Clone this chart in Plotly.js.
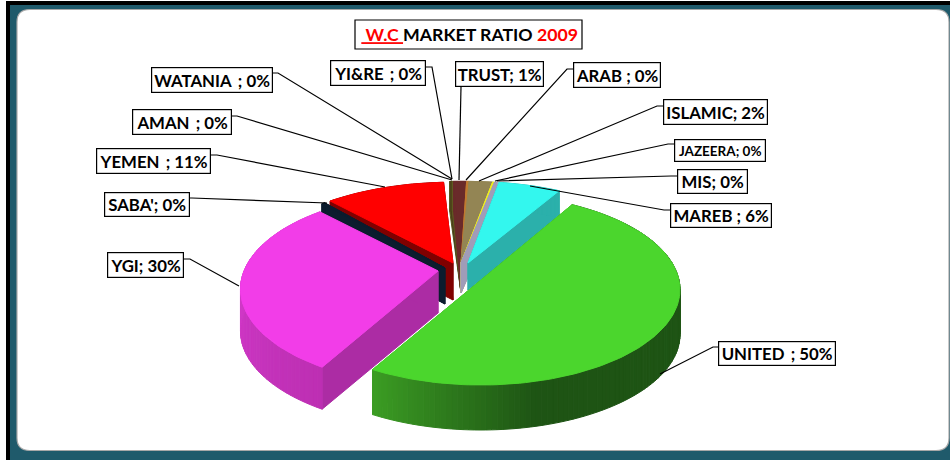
<!DOCTYPE html>
<html><head><meta charset="utf-8">
<script src="https://cdn.plot.ly/plotly-3.0.1.min.js"></script>
<style>html,body{margin:0;padding:0;background:#fff}</style></head>
<body><div id="chart" style="width:950px;height:460px"></div>
<script>
// ---- data (percent share, clockwise order) ----
var categories = ["UNITED\u2009 ","YGI","SABA'","YEMEN\u2009 ","WATANIA\u2009 ","AMAN\u2009 ","YI&RE\u2009 ","TRUST","ARAB ","ISLAMIC","JAZEERA","MIS","MAREB "];
var shares     = [50, 29.5, 0.3, 11, 0.1, 0.1, 0.1, 1.0, 0.2, 1.8, 0.15, 0.2, 5.55];
var shownPct   = ["50%","30%","0%","11%","0%","0%","0%","1%","0%","2%","0%","0%","6%"];
var titleText  = " <span style=\"color:#ff0000\"><u>&nbsp;W.C&nbsp;</u></span>MARKET RATIO <span style=\"color:#ff0000\">2009</span>";

// ---- styling and layout ----
var startAngle = 60;
var tops  = ["#4bd62d","#f23de8","#0b1c2e","#ff0000","#55551f","#4a3f1a","#5f5a22","#6a2a2a","#c07a30","#938554","#eeee20","#a09cb8","#33f7ee"];
var wallA = ["#3c9e24","#cf38c6","#0b1c2e","#800000","#55551f","#4a3f1a","#5f5a22","#6a2a2a","#c07a30","#938554","#eeee20","#a09cb8","#2bb0ab"];
var wallB = ["#1e5414","#bd2fb3","#0b1c2e","#800000","#55551f","#4a3f1a","#5f5a22","#6a2a2a","#c07a30","#938554","#eeee20","#a09cb8","#2bb0ab"];
var edgeA = ["#3c9e24","#ac2ca4","#0b1c2e","#800000","#55551f","#4a3f1a","#5f5a22","#6a2a2a","#c07a30","#938554","#eeee20","#a09cb8","#2bb0ab"];
// rim shade: angle where the rim is wallA and angle where it is wallB
var fadeA = [-120,-170,0,0,0,0,0,0,0,0,0,0,0];
var fadeB = [-75,-120,1,1,1,1,1,1,1,1,1,1,1];
// exploded placement of each slice: centre, radii, wall height, perspective
var thin = {cx:461,cy:263,rx:246,ry:97,d:30,k:0.188};
var geo = [
  {cx:481,cy:280,rx:198,ry:94.5,d:45,k:0.1},
  {cx:438,cy:271,rx:194,ry:93,d:42,k:0.188},
  {cx:445,cy:268,rx:202,ry:101,d:36,k:0.188},
  {cx:453,cy:263,rx:206,ry:96,d:37,k:0.188},
  thin,thin,thin,thin,thin,thin,thin,thin,
  {cx:468,cy:263,rx:212,ry:97,d:27,k:0.188}
];
var drawOrder = [4,5,6,7,8,9,10,11,12,3,2,1,0];
// label boxes: left, top, right, bottom and font size
var boxes = [
  [718,341,836,366,16.8],[107,252,184,278,16.8],[104,192,190,217,16.8],[96,148,211,174,16.8],
  [151,67,273,93,16.8],[132,109,232,135,16.8],[330,60,426,86,16.8],[455,61,544,87,16.8],
  [573,62,661,88,16.8],[663,99,768,125,16.8],[674,139,766,162,13.5],[677,169,748,194,16.8],[670,203,772,228,16.8]
];
// leader lines: elbow then end on the slice
var leaders = [
  [[718,347],[713,347],[660,374]],[[184,259],[190,259],[239,286]],[[190,198],[192,198],[327,203]],[[211,155],[217,155],[385,187]],
  [[273,73],[278,73],[452,179]],[[232,116],[237,116],[452,180]],[[426,67],[432,67],[452,179]],[[461,87],[461,87],[459,180]],
  [[573,69],[567,69],[466,180]],[[663,106],[657,106],[479,181]],[[674,144],[668,144],[495,181]],[[677,176],[671,176],[497,181]],[[670,210],[664,210],[530,186]]
];

function pt(g,deg){
  var t=deg*Math.PI/180,u=Math.cos(t),v=Math.sin(t),p=1/(1+g.k*v);
  return [g.cx+g.rx*u*p, g.cy-g.ry*v*p];
}
function poly(pts,color){
  var xs=pts.map(function(a){return a[0]}),ys=pts.map(function(a){return a[1]});
  xs.push(xs[0]);ys.push(ys[0]);
  return {type:"scatter",mode:"lines",x:xs,y:ys,fill:"toself",fillcolor:color,line:{width:1,color:color},hoverinfo:"skip",showlegend:false};
}
function hex(c){return [1,3,5].map(function(i){return parseInt(c.substr(i,2),16)})}
function mix(a,b,f){var A=hex(a),B=hex(b);return "rgb("+A.map(function(x,i){return Math.round(x+(B[i]-x)*f)}).join(",")+")"}

var total=shares.reduce(function(a,b){return a+b},0);
var angles=[],acc=startAngle;
shares.forEach(function(s){var d=s/total*360;angles.push([acc,acc-d]);acc-=d;});

var traces=[];
drawOrder.forEach(function(i){
  var g=geo[i],a0=angles[i][0],a1=angles[i][1],n=Math.max(2,Math.ceil((a0-a1)/1.5)),c=[g.cx,g.cy],k;
  var down=function(p){return [p[0],p[1]+g.d]};
  var s0=pt(g,a0),s1=pt(g,a1);
  traces.push(poly([c,s0,down(s0),down(c)],edgeA[i]));
  traces.push(poly([c,s1,down(s1),down(c)],edgeA[i]));
  for(k=0;k<n;k++){
    var A=a0-(a0-a1)*k/n,B=a0-(a0-a1)*(k+1)/n,pa=pt(g,A),pb=pt(g,B);
    var f=Math.max(0,Math.min(1,(A-fadeA[i])/(fadeB[i]-fadeA[i])));
    traces.push(poly([pa,pb,down(pb),down(pa)],mix(wallA[i],wallB[i],f)));
  }
  var top=[c];
  for(k=0;k<=n;k++)top.push(pt(g,a0-(a0-a1)*k/n));
  traces.push(poly(top,tops[i]));
});

var FONT="Lato, 'Open Sans', sans-serif";
var annotations=categories.map(function(name,i){
  var b=boxes[i];
  return {xref:"x",yref:"y",x:(b[0]+b[2])/2,y:(b[1]+b[3])/2,xanchor:"center",yanchor:"middle",showarrow:false,
    text:"<b>"+name.replace(/&/g,"&amp;")+"; "+shownPct[i]+"</b>",
    width:b[2]-b[0]-2,height:b[3]-b[1]-2,align:"center",valign:"middle",
    bgcolor:"#ffffff",bordercolor:"#000000",borderwidth:1.2,borderpad:0,
    font:{family:FONT,size:b[4],color:"#000000"}};
});

var shapes=[
  {type:"rect",layer:"below",xref:"x",yref:"y",x0:6,x1:950,y0:1,y1:460,fillcolor:"#000000",line:{width:0}},
  {type:"rect",layer:"below",xref:"x",yref:"y",x0:10,x1:950,y0:5,y1:460,fillcolor:"#1f5a6b",line:{width:0}},
  {type:"path",layer:"below",xref:"x",yref:"y",path:"M30,9.5 L936,9.5 Q949,9.5 949,22 L949,438 Q949,450.5 936,450.5 L30,450.5 Q17,450.5 17,438 L17,22 Q17,9.5 30,9.5 Z",fillcolor:"#ffffff",line:{width:1.2,color:"#a8a8a8"}},
  {type:"rect",layer:"above",xref:"x",yref:"y",x0:355,x1:582,y0:20,y1:49,fillcolor:"#ffffff",line:{width:1.2,color:"#000000"}}
];
leaders.forEach(function(l){
  shapes.push({type:"path",layer:"above",xref:"x",yref:"y",path:"M"+l[0].join(",")+" L"+l[1].join(",")+" L"+l[2].join(","),line:{width:1.2,color:"#000000"}});
});

var layout={
  width:950,height:460,autosize:false,margin:{l:0,r:0,t:0,b:0},
  paper_bgcolor:"#ffffff",plot_bgcolor:"rgba(0,0,0,0)",showlegend:false,
  title:{text:"<b>"+titleText+"</b>",x:467.5/950,y:1-35/460,xref:"paper",yref:"paper",xanchor:"center",yanchor:"middle",font:{family:FONT,size:17.7,color:"#000000"}},
  xaxis:{range:[0,950],visible:false,fixedrange:true},
  yaxis:{range:[460,0],visible:false,fixedrange:true},
  shapes:shapes,annotations:annotations
};
Plotly.newPlot("chart",traces,layout,{staticPlot:true,displayModeBar:false});
</script></body></html>
